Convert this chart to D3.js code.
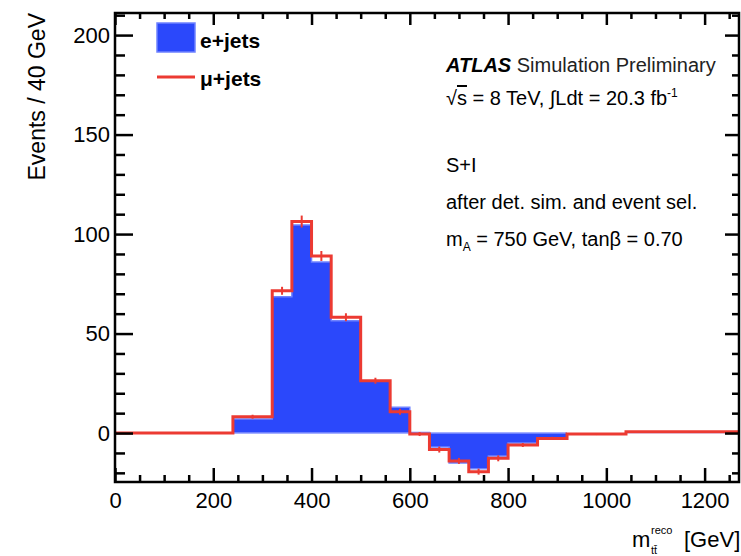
<!DOCTYPE html>
<html>
<head>
<meta charset="utf-8">
<script src="https://cdn.jsdelivr.net/npm/d3@7"></script>
<style>
  html, body { margin: 0; padding: 0; background: #fff; }
  svg { display: block; }
  text { font-family: "Liberation Sans", Arial, Helvetica, sans-serif; fill: #000; }
</style>
</head>
<body>
<svg id="chart" width="741" height="556"></svg>
<script>
// ---- data ----
const binEdges = [0, 240, 320, 360, 400, 440, 500, 560, 600, 640, 680, 720, 760, 800, 860, 920, 1040, 1300];
const eJets    = [0, 7, 68.5, 104.5, 86, 56.5, 26, 13, 0.3, -7, -15, -18, -11.5, -5, -2.5, -0.3, 0.3];
const muJets   = [0, 8.2, 71.5, 106.3, 89, 58.2, 26.3, 10.7, -0.5, -8.3, -14, -19.4, -12.7, -6, -2.7, -0.5, 0.6];
const muErr    = [0, 1, 2, 3, 2.5, 2, 1.5, 1.5, 1, 1.5, 1.5, 1.5, 1.5, 1, 0.8, 0.5, 0.3];
const xMajorTicks = [0, 200, 400, 600, 800, 1000, 1200];
const yMajorTicks = [0, 50, 100, 150, 200];
const legendLabels = ["e+jets", "\u03bc+jets"];

const svg = d3.select("#chart");
const L = 115, R = 739, T = 13, B = 482;
const x = d3.scaleLinear().domain([0, 1270]).range([L, R]);
const y = d3.scaleLinear().domain([-24.6, 211.1]).range([B, T]);

svg.append("clipPath").attr("id", "plotclip")
  .append("rect").attr("x", L).attr("y", T).attr("width", R - L).attr("height", B - T);

const plot = svg.append("g").attr("clip-path", "url(#plotclip)");

function stepPoints(vals) {
  const pts = [];
  vals.forEach((v, i) => { pts.push([binEdges[i], v]); pts.push([binEdges[i + 1], v]); });
  return pts;
}

// blue filled histogram
const ePts = stepPoints(eJets);
plot.append("path")
  .attr("d", d3.area().x(d => x(d[0])).y0(y(0)).y1(d => y(d[1]))(ePts))
  .attr("fill", "#2b48fb");
plot.append("path")
  .attr("d", d3.line().x(d => x(d[0])).y(d => y(d[1]))(ePts))
  .attr("fill", "none").attr("stroke", "#6f82ff").attr("stroke-width", 1.5);
plot.append("line")
  .attr("x1", x(binEdges[1])).attr("x2", x(binEdges[15])).attr("y1", y(0)).attr("y2", y(0))
  .attr("stroke", "#8796ff").attr("stroke-width", 1.5);

// red histogram line
const mPts = stepPoints(muJets);
plot.append("path")
  .attr("d", d3.line().x(d => x(d[0])).y(d => y(d[1]))(mPts))
  .attr("fill", "none").attr("stroke", "#ec3a32").attr("stroke-width", 3).attr("stroke-linejoin", "miter");
plot.selectAll(".err").data(muJets).enter().append("line")
  .attr("x1", (d, i) => x((binEdges[i] + binEdges[i + 1]) / 2))
  .attr("x2", (d, i) => x((binEdges[i] + binEdges[i + 1]) / 2))
  .attr("y1", (d, i) => y(d - muErr[i]))
  .attr("y2", (d, i) => y(d + muErr[i]))
  .attr("stroke", "#ec3a32").attr("stroke-width", 2);

// ---- axes ----
const xMinor = d3.range(0, 1270, 50).filter(v => v % 200 !== 0);
const yMinor = d3.range(-20, 211, 10).filter(v => v % 50 !== 0);

function styleAxis(g) {
  g.select(".domain").remove();
  g.selectAll(".tick line").attr("stroke", "#000").attr("stroke-width", 2.5);
  g.selectAll("text").style("font-size", "22px").attr("fill", "#111");
}

// bottom
svg.append("g").attr("transform", `translate(0,${B})`)
  .call(d3.axisBottom(x).tickValues(xMajorTicks).tickSize(-14).tickPadding(10).tickFormat(d3.format("d")))
  .call(styleAxis);
svg.append("g").attr("transform", `translate(0,${B})`)
  .call(d3.axisBottom(x).tickValues(xMinor).tickSize(-7).tickFormat(""))
  .call(styleAxis);
// top
svg.append("g").attr("transform", `translate(0,${T})`)
  .call(d3.axisTop(x).tickValues(xMajorTicks).tickSize(-12).tickFormat(""))
  .call(styleAxis);
svg.append("g").attr("transform", `translate(0,${T})`)
  .call(d3.axisTop(x).tickValues(xMinor).tickSize(-6).tickFormat(""))
  .call(styleAxis);
// left
svg.append("g").attr("transform", `translate(${L},0)`)
  .call(d3.axisLeft(y).tickValues(yMajorTicks).tickSize(-18).tickPadding(5))
  .call(styleAxis);
svg.append("g").attr("transform", `translate(${L},0)`)
  .call(d3.axisLeft(y).tickValues(yMinor).tickSize(-10).tickFormat(""))
  .call(styleAxis);
// right
svg.append("g").attr("transform", `translate(${R},0)`)
  .call(d3.axisRight(y).tickValues(yMajorTicks).tickSize(-14).tickFormat(""))
  .call(styleAxis);
svg.append("g").attr("transform", `translate(${R},0)`)
  .call(d3.axisRight(y).tickValues(yMinor).tickSize(-7).tickFormat(""))
  .call(styleAxis);

// frame
svg.append("rect").attr("x", L).attr("y", T).attr("width", R - L).attr("height", B - T)
  .attr("fill", "none").attr("stroke", "#000").attr("stroke-width", 2.5);

// axis titles
svg.append("text")
  .attr("transform", `translate(45,${T}) rotate(-90)`)
  .attr("text-anchor", "end")
  .style("font-size", "23px").attr("fill", "#222")
  .text("Events / 40 GeV");

svg.append("text").attr("x", 632).attr("y", 547).style("font-size", "22px").attr("fill", "#222").text("m");
svg.append("text").attr("x", 651).attr("y", 534).style("font-size", "11px").attr("fill", "#222").text("reco");
svg.append("text").attr("x", 651).attr("y", 554).style("font-size", "11px").attr("fill", "#222").text("t\u0074\u0304");
svg.append("text").attr("x", 684).attr("y", 547).style("font-size", "22px").attr("fill", "#222").text("[GeV]");

// legend
svg.append("rect").attr("x", 157).attr("y", 23).attr("width", 38).attr("height", 29)
  .attr("fill", "#2b48fb").attr("stroke", "#6f82ff").attr("stroke-width", 1.5);
svg.append("line").attr("x1", 157).attr("x2", 195).attr("y1", 77).attr("y2", 77)
  .attr("stroke", "#ec3a32").attr("stroke-width", 3);
svg.append("text").attr("x", 200).attr("y", 48).style("font-size", "21px").style("font-weight", "bold").attr("fill", "#222").text(legendLabels[0]);
svg.append("text").attr("x", 200).attr("y", 86).style("font-size", "21px").style("font-weight", "bold").attr("fill", "#222").text(legendLabels[1]);

// annotation block
const tx = 446;
const t1 = svg.append("text").attr("x", tx).attr("y", 72).style("font-size", "20px");
t1.append("tspan").style("font-weight", "bold").style("font-style", "italic").text("ATLAS");
t1.append("tspan").attr("fill", "#222").text(" Simulation Preliminary");

const t2 = svg.append("text").attr("x", tx).attr("y", 105).style("font-size", "20px").attr("fill", "#222");
t2.append("tspan").text("\u221a");
t2.append("tspan").style("text-decoration", "overline").text("s");
t2.append("tspan").text(" = 8 TeV, \u222bLdt = 20.3 fb");
t2.append("tspan").attr("dy", -8).style("font-size", "12px").text("-1");

svg.append("text").attr("x", tx).attr("y", 172).style("font-size", "20px").attr("fill", "#222").text("S+I");
svg.append("text").attr("x", tx).attr("y", 209).style("font-size", "20px").attr("fill", "#222").text("after det. sim. and event sel.");

const t5 = svg.append("text").attr("x", tx).attr("y", 246).style("font-size", "20px").attr("fill", "#222");
t5.append("tspan").text("m");
t5.append("tspan").attr("dy", 5).style("font-size", "12px").text("A");
t5.append("tspan").attr("dy", -5).text(" = 750 GeV, tan\u03b2 = 0.70");
</script>
</body>
</html>
